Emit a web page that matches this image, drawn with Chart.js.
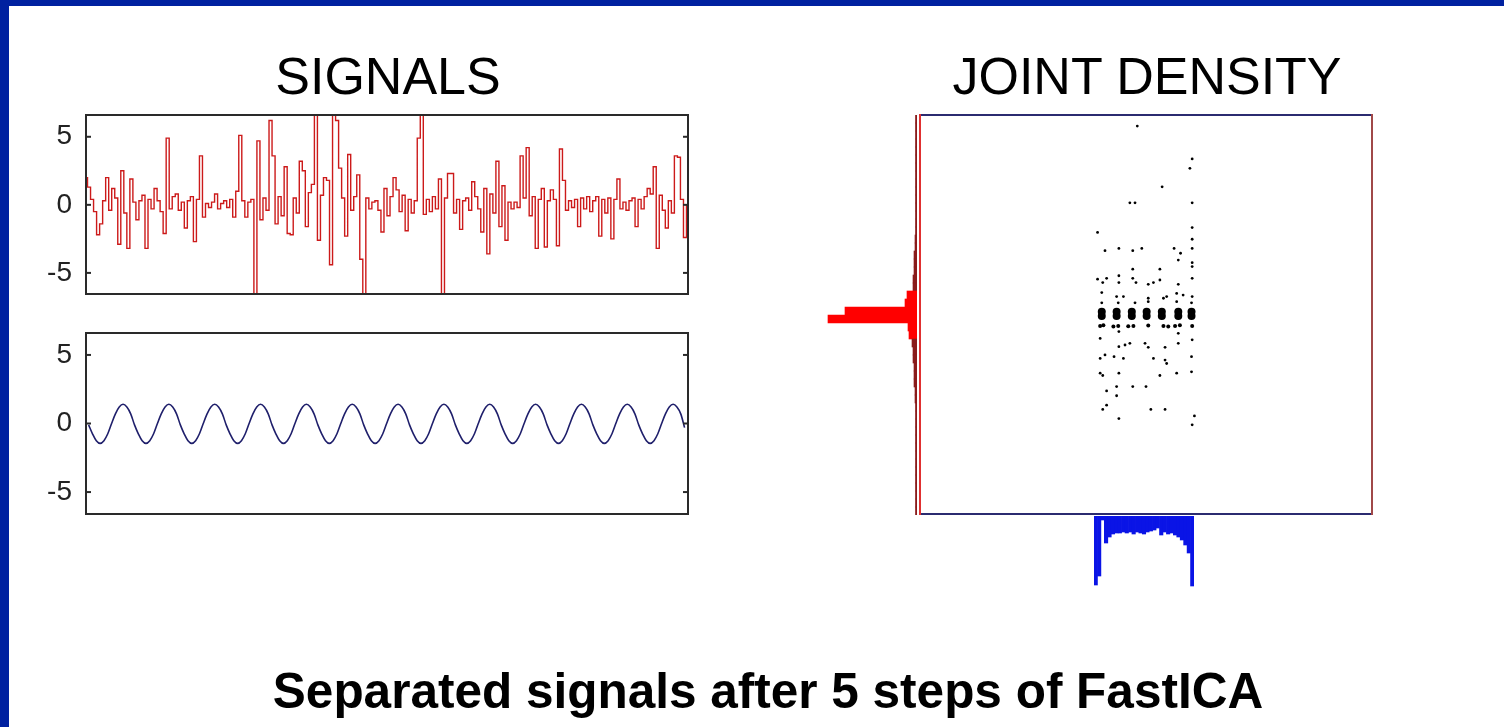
<!DOCTYPE html>
<html>
<head>
<meta charset="utf-8">
<title>Separated signals after 5 steps of FastICA</title>
<script src="https://cdn.jsdelivr.net/npm/chart.js@4.4.1/dist/chart.umd.min.js"></script>
<style>
    html, body { margin: 0; padding: 0; }
    body { width: 1504px; height: 727px; position: relative; overflow: hidden; background: #fff; font-family: "Liberation Sans", Arial, sans-serif; }
    .edge-top { position: absolute; left: 0; top: 0; width: 1504px; height: 6px; background: #0021a0; }
    .edge-left { position: absolute; left: 0; top: 0; width: 9px; height: 727px; background: #0021a0; }
    canvas { position: absolute; }
    .txt { position: absolute; white-space: nowrap; color: #000; line-height: 1; transform: translateX(-50%); }
    .plot-title { font-size: 52px; top: 50px; }
    .caption { font-size: 49.5px; font-weight: bold; top: 666px; left: 768px; }
</style>
</head>
<body>
<div class="edge-top"></div>
<div class="edge-left"></div>

<div class="txt plot-title" style="left:388px;">SIGNALS</div>
<div class="txt plot-title" style="left:1147px;">JOINT DENSITY</div>

<canvas id="sig-top" width="680" height="200" style="left:20px;top:105px;"></canvas>
<canvas id="sig-bot" width="680" height="200" style="left:20px;top:323px;"></canvas>
<canvas id="hist-red" width="97" height="400" style="left:820px;top:115px;"></canvas>
<canvas id="joint" width="472" height="419" style="left:910px;top:105px;"></canvas>
<canvas id="hist-blue" width="100" height="72" style="left:1094px;top:516px;"></canvas>

<div class="txt caption">Separated signals after 5 steps of FastICA</div>

<script>
// tick labels on both signal panels
const sigYTicks = [-5, 0, 5];

// first separated source: sparse spiky signal (200 samples)
const sparseSignal = [
    2.0, 1.3, 0.4, -0.5, -2.2, -1.4, 0.3, 2.0, -0.4, 1.2,
    0.5, -2.9, 2.5, -0.6, -3.2, 1.9, 0.2, -1.1, 0.3, 0.7,
    -3.2, 0.4, -0.3, 1.2, 0.3, -0.5, -2.1, 4.9, -0.3, 0.6,
    0.8, -0.4, 0.2, -1.7, 0.3, 0.6, -2.7, 0.4, 3.6, -0.9,
    0.1, -0.2, 0.2, 0.8, -0.3, 0.1, 0.3, -0.2, 0.4, -0.9,
    1.0, 5.1, 0.3, -0.9, 0.2, 0.4, -6.8, 4.7, -1.1, 0.5,
    -0.4, 6.2, 3.6, -1.4, 0.6, -0.8, 2.8, -2.1, -2.2, 0.5,
    -0.6, 3.2, 2.5, -1.6, 0.9, 1.5, 6.8, -2.6, 0.7, 2.0,
    1.8, -4.4, 6.8, 6.2, 2.7, 0.5, -2.3, 3.7, -0.4, 0.6,
    2.2, -4.0, -6.8, 0.5, -0.3, 0.2, 0.3, -0.4, -2.0, 1.2,
    -0.8, 0.6, 2.0, 1.1, -0.5, 0.7, -1.9, 0.4, -0.6, 0.3,
    4.9, 6.8, -0.7, 0.4, -0.5, 0.6, -0.3, 1.9, -6.8, 0.5,
    2.3, 2.3, -0.6, 0.4, -1.8, 0.3, 0.5, -0.4, 1.7, 0.6,
    -0.3, -2.0, 1.2, -3.6, 0.8, -0.6, 3.2, -1.6, 1.4, -2.6,
    0.2, -0.3, 0.2, -0.2, 3.6, 0.5, 4.2, -0.8, 0.6, -3.2,
    0.4, 1.2, -3.1, 0.3, 1.1, 0.4, -3.0, 4.1, 1.8, -0.4,
    0.3, -0.2, 0.4, -1.6, 0.5, -0.3, 0.6, -0.5, 0.3, 0.6,
    -2.3, 0.4, -0.6, 0.5, -2.5, 0.4, 1.9, -0.3, 0.2, -0.4,
    0.3, 0.5, -1.6, 0.4, -0.3, 0.6, 1.2, 0.8, 2.8, -3.2,
    0.7, -0.4, -1.7, 0.3, -0.6, 3.6, 3.5, 0.4, -2.4, 0.0,
];

// second separated source: sinusoid, 12 samples per period
const sineSignal = [
    -0.1, -0.75, -1.25, -1.45, -1.25, -0.75, 0.0, 0.7, 1.2, 1.4, 1.2, 0.7,
    -0.1, -0.75, -1.25, -1.45, -1.25, -0.75, 0.0, 0.7, 1.2, 1.4, 1.2, 0.7,
    -0.1, -0.75, -1.25, -1.45, -1.25, -0.75, 0.0, 0.7, 1.2, 1.4, 1.2, 0.7,
    -0.1, -0.75, -1.25, -1.45, -1.25, -0.75, 0.0, 0.7, 1.2, 1.4, 1.2, 0.7,
    -0.1, -0.75, -1.25, -1.45, -1.25, -0.75, 0.0, 0.7, 1.2, 1.4, 1.2, 0.7,
    -0.1, -0.75, -1.25, -1.45, -1.25, -0.75, 0.0, 0.7, 1.2, 1.4, 1.2, 0.7,
    -0.1, -0.75, -1.25, -1.45, -1.25, -0.75, 0.0, 0.7, 1.2, 1.4, 1.2, 0.7,
    -0.1, -0.75, -1.25, -1.45, -1.25, -0.75, 0.0, 0.7, 1.2, 1.4, 1.2, 0.7,
    -0.1, -0.75, -1.25, -1.45, -1.25, -0.75, 0.0, 0.7, 1.2, 1.4, 1.2, 0.7,
    -0.1, -0.75, -1.25, -1.45, -1.25, -0.75, 0.0, 0.7, 1.2, 1.4, 1.2, 0.7,
    -0.1, -0.75, -1.25, -1.45, -1.25, -0.75, 0.0, 0.7, 1.2, 1.4, 1.2, 0.7,
    -0.1, -0.75, -1.25, -1.45, -1.25, -0.75, 0.0, 0.7, 1.2, 1.4, 1.2, 0.7,
    -0.1, -0.75, -1.25, -1.45, -1.25, -0.75, 0.0, 0.7, 1.2, 1.4, 1.2, 0.7,
    -0.3,
];

// joint density: x = sine source, y = sparse source
const jointX = [
    -0.27, 1.43, 1.36, 0.5, -0.5, -0.34, 1.43, -1.5, 1.43, 1.43,
    -1.27, -0.84, -0.41, -0.13, 0.87, 1.07, 1.43, 1.0, 1.43, 1.43,
    -0.41, 0.43, 1.43, -1.5, -1.34, -1.22, -0.84, -0.84, -0.41, -0.31,
    0.07, 0.23, 0.43, 1.0, -1.37, -0.91, -0.7, 0.07, 0.54, 0.64,
    0.95, 1.15, 1.43, -1.37, -0.86, -0.34, 0.07, 0.95, 1.41,
    -1.42, -0.84, -0.84, -0.65, -0.5, -0.03, 0.07, 0.59, 1.0, 1.0,
    1.43, -1.42, -1.27, -0.99, -0.7, 0.23, 0.59, 0.64, 1.41,
    -1.42, -1.34, -0.84, 0.43, 0.95, 1.41,
    -1.22, -0.91, -0.91, -0.41, 0.0,
    -1.34, -1.22, 0.15, 0.59, -0.84, 1.5, 1.43,
];
const jointY = [
    6.61, 5.46, 5.13, 4.48, 3.92, 3.92, 3.92, 2.88, 3.05, 2.64,
    2.24, 2.32, 2.24, 2.32, 2.32, 2.15, 2.32, 1.91, 1.82, 1.68,
    1.59, 1.59, 1.27, 1.24, 1.12, 1.27, 1.36, 1.12, 1.27, 1.12,
    1.06, 1.12, 1.21, 1.06, 0.77, 0.63, 0.63, 0.57, 0.57, 0.63,
    0.74, 0.68, 0.63, 0.41, 0.41, 0.41, 0.45, 0.45, 0.41,
    -0.84, -0.6, -1.13, -1.07, -1.01, -1.01, -1.15, -1.15, -1.01, -0.66,
    -0.89, -1.54, -1.42, -1.48, -1.54, -1.54, -1.6, -1.72, -1.48,
    -2.06, -2.14, -2.06, -2.14, -2.06, -2.01,
    -2.68, -2.53, -2.85, -2.53, -2.53,
    -3.33, -3.18, -3.33, -3.33, -3.65, -3.56, -3.87,
];
// the busy row just under zero
const nearRowX = [-1.42, -1.32, -1.01, -0.86, -0.55, -0.39, 0.07, 0.54, 0.69, 0.9, 1.05, 1.43];
const nearRowY = [-0.4, -0.38, -0.42, -0.4, -0.41, -0.4, -0.39, -0.4, -0.42, -0.4, -0.38, -0.4];
// heavy blobs on the zero line
const peakX = [-1.37, -0.91, -0.44, 0.02, 0.49, 1.0, 1.41, -1.37, -0.91, -0.44, 0.02, 0.49, 1.0, 1.41];
const peakY = [0.1, 0.1, 0.1, 0.1, 0.1, 0.1, 0.1, -0.05, -0.05, -0.05, -0.05, -0.05, -0.05, -0.05];

// marginal of the sparse source (bins from top to bottom)
const redHistBins = [
    6.86, 6.58, 6.30, 6.02, 5.74, 5.46, 5.18, 4.90, 4.62, 4.34,
    4.06, 3.78, 3.50, 3.22, 2.94, 2.66, 2.38, 2.10, 1.82, 1.54,
    1.26, 0.98, 0.70, 0.42, 0.14, -0.14, -0.42, -0.70, -0.98, -1.26,
    -1.54, -1.82, -2.10, -2.38, -2.66, -2.94, -3.22, -3.50, -3.78, -4.06,
    -4.34, -4.62, -4.90, -5.18, -5.46, -5.74, -6.02, -6.30, -6.58, -6.86,
];
const redHistCounts = [
    1.5, 1.5, 1.5, 1.5, 1.5, 1.5, 1.5, 1.5, 1.5, 1.5,
    1.5, 1.5, 1.5, 1.5, 1.5, 2, 2, 3, 3, 3,
    4, 4, 10, 12, 72, 89, 9, 8, 5, 4,
    4, 3, 3, 3, 2, 2, 1.5, 1.5, 1.5, 1.5,
    1.5, 1.5, 1.5, 1.5, 1.5, 1.5, 1.5, 1.5, 1.5, 1.5,
];

// marginal of the sine source (bins from left to right)
const blueHistBins = [
    -1.45, -1.35, -1.25, -1.14, -1.04, -0.93, -0.83, -0.73, -0.62, -0.52,
    -0.41, -0.31, -0.21, -0.10, 0.00, 0.10, 0.21, 0.31, 0.41, 0.52,
    0.62, 0.73, 0.83, 0.93, 1.04, 1.14, 1.25, 1.35, 1.45,
];
const blueHistCounts = [
    69, 60, 4, 27, 21, 18, 17, 17, 16, 17,
    16, 18, 16, 17, 18, 16, 15, 14, 12, 19,
    16, 18, 17, 19, 21, 24, 29, 37, 70,
];

Chart.defaults.font.family = "'Liberation Sans', Arial, sans-serif";
Chart.defaults.animation = false;

// matlab-ish box: coloured sides + inward ticks
const boxFrame = {
    id: 'boxFrame',
    afterDatasetsDraw(chart, args, opts) {
        const { ctx, chartArea: a } = chart;
        const c = opts.colors || {};
        ctx.save();
        ctx.lineWidth = opts.width || 2;
        ctx.lineCap = 'square';
        const line = (x1, y1, x2, y2, col) => {
            ctx.strokeStyle = col;
            ctx.beginPath(); ctx.moveTo(x1, y1); ctx.lineTo(x2, y2); ctx.stroke();
        };
        line(a.left, a.top, a.right, a.top, c.top || '#2a2a2a');
        line(a.left, a.bottom, a.right, a.bottom, c.bottom || '#2a2a2a');
        line(a.left, a.top, a.left, a.bottom, c.left || '#2a2a2a');
        line(a.right, a.top, a.right, a.bottom, c.right || '#2a2a2a');
        if (opts.ticks) {
            const y = chart.scales.y;
            y.ticks.forEach((t) => {
                const py = y.getPixelForValue(t.value);
                line(a.left, py, a.left + 4, py, '#2a2a2a');
                line(a.right - 4, py, a.right, py, '#2a2a2a');
            });
        }
        ctx.restore();
    },
};

function signalChart(id, values, color, width, opts) {
    return new Chart(document.getElementById(id), {
        type: 'line',
        data: {
            datasets: [{
                data: values.map((v, i) => ({ x: i, y: v })),
                borderColor: color, borderWidth: width, pointRadius: 0,
                tension: opts.tension || 0, stepped: opts.stepped || false, clip: 0,
            }],
        },
        options: {
            responsive: false,
            layout: { padding: opts.padding },
            plugins: { legend: { display: false }, tooltip: { enabled: false }, boxFrame: { ticks: true } },
            scales: {
                x: { type: 'linear', display: false, min: opts.xMin, max: opts.xMax },
                y: {
                    min: opts.yMin, max: opts.yMax,
                    grid: { display: false, drawTicks: false },
                    border: { display: false },
                    afterBuildTicks: (s) => { s.ticks = sigYTicks.map((v) => ({ value: v })); },
                    // fixed gutter, and no extra room for the end labels
                    afterFit: (s) => { s.width = 66; s.paddingTop = 0; s.paddingBottom = 0; },
                    ticks: { padding: 14, color: '#222', font: { size: 28 } },
                },
            },
        },
        plugins: [boxFrame],
    });
}

signalChart('sig-top', sparseSignal, '#cc1a1a', 1.4,
    { padding: { top: 10, right: 12, bottom: 11, left: 0 }, xMin: 0, xMax: 199, yMin: -6.55, yMax: 6.6, stepped: 'middle' });
signalChart('sig-bot', sineSignal, '#1f1f6b', 1.6,
    { padding: { top: 10, right: 12, bottom: 9, left: 0 }, xMin: -0.7, xMax: 156.9, yMin: -6.6, yMax: 6.6, tension: 0.3 });

// joint scatter
const pts = (xs, ys) => xs.map((x, i) => ({ x, y: ys[i] }));
new Chart(document.getElementById('joint'), {
    type: 'scatter',
    data: {
        datasets: [
            { data: pts(jointX, jointY), pointRadius: 1.4, backgroundColor: '#000', borderWidth: 0 },
            { data: pts(nearRowX, nearRowY), pointRadius: 2, backgroundColor: '#000', borderWidth: 0 },
            { data: pts(peakX, peakY), pointRadius: 4, backgroundColor: '#000', borderWidth: 0 },
        ],
    },
    options: {
        responsive: false,
        layout: { padding: 10 },
        plugins: {
            legend: { display: false }, tooltip: { enabled: false },
            boxFrame: { colors: { top: '#2b2b70', bottom: '#2b2b70', left: '#e03030', right: '#a04848' } },
        },
        scales: {
            x: { display: false, min: -7, max: 7 },
            y: { display: false, min: -7, max: 7 },
        },
    },
    plugins: [boxFrame],
});

// red marginal, bars grow to the left
new Chart(document.getElementById('hist-red'), {
    type: 'bar',
    data: {
        labels: redHistBins,
        datasets: [{
            data: redHistCounts,
            backgroundColor: redHistCounts.map((c) => (c >= 8 ? '#ff0000' : '#8a1c1c')),
            barPercentage: 1, categoryPercentage: 1,
        }],
    },
    options: {
        indexAxis: 'y',
        responsive: false,
        layout: { padding: 0 },
        plugins: { legend: { display: false }, tooltip: { enabled: false } },
        scales: {
            x: { display: false, reverse: true, min: 0, max: 97 },
            y: { display: false },
        },
    },
});

// blue marginal, bars hang down
new Chart(document.getElementById('hist-blue'), {
    type: 'bar',
    data: {
        labels: blueHistBins,
        datasets: [{
            data: blueHistCounts,
            backgroundColor: '#0a14e6',
            barPercentage: 1, categoryPercentage: 1,
        }],
    },
    options: {
        responsive: false,
        layout: { padding: 0 },
        plugins: { legend: { display: false }, tooltip: { enabled: false } },
        scales: {
            x: { display: false },
            y: { display: false, reverse: true, min: 0, max: 72 },
        },
    },
});
</script>
</body>
</html>
